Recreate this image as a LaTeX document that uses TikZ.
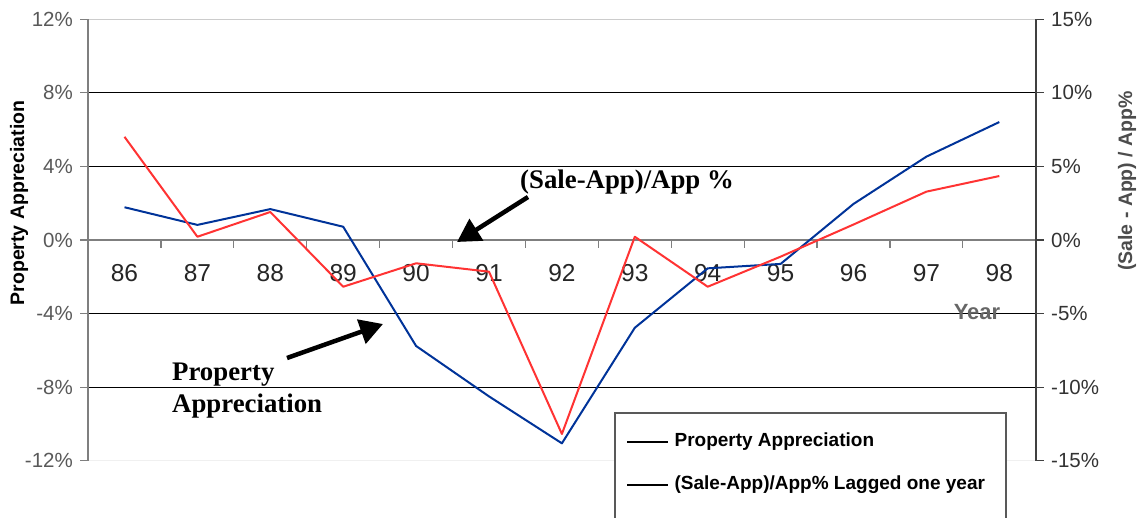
\documentclass[tikz,border=0pt]{standalone}
\usepackage{fontspec}
\setmainfont{Liberation Serif}
\setsansfont{Liberation Sans}
\usetikzlibrary{arrows.meta, positioning}

\definecolor{appblue}{HTML}{003399}
\definecolor{lagred}{HTML}{FF3333}
\definecolor{axisgray}{HTML}{7F7F7F}
\definecolor{labelgray}{HTML}{595959}

\begin{document}
\begin{tikzpicture}[
    x=1pt, y=1pt,
    gridline/.style={black, line width=0.9pt},
    axisline/.style={axisgray, line width=1.2pt},
    ticklabel/.style={font=\sffamily\fontsize{20.5}{24}\selectfont, inner sep=0pt},
    yearlabel/.style={font=\sffamily\fontsize{24.5}{28}\selectfont, text=black!85, inner sep=0pt},
    axistitle/.style={font=\sffamily\bfseries\fontsize{19.5}{23}\selectfont, inner sep=0pt, rotate=90},
    callout/.style={font=\bfseries\fontsize{26.8}{30}\selectfont, inner sep=0pt, anchor=base west},
    calloutarrow/.style={-{Triangle[length=23pt, width=25pt]}, line width=4.5pt, black},
    series/.style={line width=2pt, line join=round},
    legendtext/.style={font=\sffamily\bfseries\fontsize{19}{22}\selectfont, inner sep=0pt, anchor=west}
]
\useasboundingbox (0,0) rectangle (1140,517);
\fill[white] (0,0) rectangle (1140,517);

% Plot frame and horizontal grid
\draw[gray!40, line width=1.2pt] (88,497.8) -- (1036,497.8);
\draw[gray!12, line width=1.2pt] (88,56.2) -- (1036,56.2);
\foreach \yy in {424.2, 350.6, 203.4, 129.8}
    \draw[gridline] (88,\yy) -- (1036,\yy);

% Category axis at zero with year ticks
\draw[axisgray, line width=2pt] (88,277) -- (1036,277);
\foreach \k in {1,...,12}
    \draw[axisline] (88+72.9*\k,277) -- ++(0,-8);
\foreach \yr [count=\k from 0] in {86,...,98}
    \node[yearlabel] (yr\yr) at (124.5+72.9*\k,244) {\yr};
\node[font=\sffamily\bfseries\fontsize{22}{26}\selectfont, text=black!60, inner sep=0pt] (yearttl) at (977,205) {Year};

% Value axes
\draw[axisline] (88,497.8) -- (88,56.2);
\draw[black!75, line width=1.2pt] (1036,497.8) -- (1036,56.2);
\foreach \yy/\lbl [count=\i] in {497.8/12\%, 424.2/8\%, 350.6/4\%, 277/0\%, 203.4/-4\%, 129.8/-8\%, 56.2/-12\%} {
    \draw[axisline] (80,\yy) -- (88,\yy);
    \node[ticklabel, text=labelgray, anchor=east] (lt\i) at (73,\yy) {\lbl};
}
\foreach \yy/\lbl [count=\i] in {497.8/15\%, 424.2/10\%, 350.6/5\%, 277/0\%, 203.4/-5\%, 129.8/-10\%, 56.2/-15\%} {
    \draw[black!75, line width=1.2pt] (1036,\yy) -- (1044,\yy);
    \node[ticklabel, text=black!80, anchor=west] (rt\i) at (1051,\yy) {\lbl};
}
\node[axistitle] (lefttitle) at (19,314) {Property Appreciation};
\node[axistitle, text=black!70] (righttitle) at (1127,336) {(Sale - App) / App\%};

% Property appreciation (left scale)
\begin{scope}[shift={(124.5pt,277pt)}, x=72.9pt, y=18.4pt]
    \draw[series, appblue] (0,1.78) -- (1,0.82) -- (2,1.68) -- (3,0.72) -- (4,-5.76)
        -- (5,-8.5) -- (6,-11.05) -- (7,-4.77) -- (8,-1.54) -- (9,-1.3)
        -- (10,1.96) -- (11,4.53) -- (12,6.41);
\end{scope}

% Lagged (sale - app)/app ratio (right scale)
\begin{scope}[shift={(124.5pt,277pt)}, x=72.9pt, y=14.74pt]
    \draw[series, lagred] (0,7.0) -- (1,0.22) -- (2,1.9) -- (3,-3.17) -- (4,-1.58)
        -- (5,-2.15) -- (6,-13.16) -- (7,0.22) -- (8,-3.17) -- (9,-1.13)
        -- (10,1.05) -- (11,3.28) -- (12,4.34);
\end{scope}

% Callouts
\node[callout] (ratiolbl) at (520,328) {(Sale-App)/App \%};
\node[callout] (proplbl) at (172,137) {Property};
\node[callout] (applbl) at (172,104.7) {Appreciation};
\coordinate (ratiotail) at (528,320);
\coordinate (ratiotip) at (457,275);
\coordinate (proptail) at (287,159);
\coordinate (proptip) at (383,193);
\draw[calloutarrow] (ratiotail) -- (ratiotip);
\draw[calloutarrow] (proptail) -- (proptip);

% Legend
\draw[black!65, fill=white, line width=1.2pt] (615,104) rectangle (1006,-10);
\coordinate (key1) at (627,75);
\coordinate (key2) at (627,32);
\draw[black, line width=1.2pt] (key1) -- ++(41,0) node[legendtext, right=6pt] (leg1) {Property Appreciation};
\draw[black, line width=1.2pt] (key2) -- ++(41,0) node[legendtext, right=6pt] (leg2) {(Sale-App)/App\% Lagged one year};

\end{tikzpicture}
\end{document}
